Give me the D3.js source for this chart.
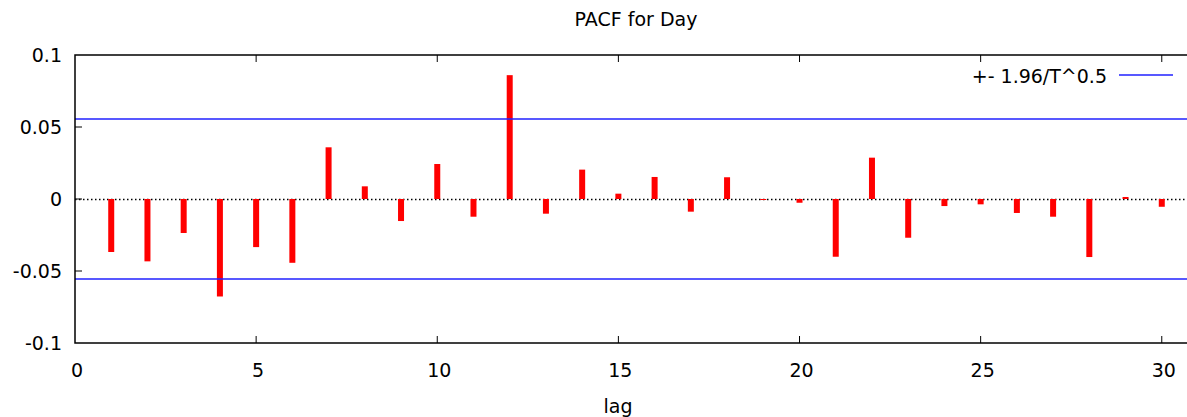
<!DOCTYPE html>
<html>
<head>
<meta charset="utf-8">
<script src="https://cdn.jsdelivr.net/npm/d3@7/dist/d3.min.js"></script>
<style>
  body { margin: 0; background: #fff; }
  svg text { font-family: "DejaVu Sans", Verdana, sans-serif; font-size: 19px; fill: #000; }
</style>
</head>
<body>
<svg width="1187" height="417"></svg>
<script>
var lags = d3.range(1, 31);
var pacf = [-0.0368, -0.0433, -0.0236, -0.0677, -0.0334, -0.0443, 0.0359, 0.0088, -0.0153, 0.0243,
  -0.0123, 0.0860, -0.0102, 0.0204, 0.0037, 0.0153, -0.0088, 0.0151, -0.0007, -0.0026,
  -0.0401, 0.0287, -0.0269, -0.0049, -0.0037, -0.0097, -0.0123, -0.0403, 0.0014, -0.0054];
var band = 0.0558;
var xTicks = [0, 5, 10, 15, 20, 25, 30];
var yTicks = [-0.1, -0.05, 0, 0.05, 0.1];

var svg = d3.select("svg"),
  plotL = 75, plotR = 1198, plotT = 55, plotB = 343;

var x = d3.scaleLinear().domain([0, 31]).range([plotL, plotR]);
var y = d3.scaleLinear().domain([-0.1, 0.1]).range([plotB, plotT]);

// title and axis label
svg.append("text").attr("x", 636).attr("y", 26).attr("text-anchor", "middle").text("PACF for Day");
svg.append("text").attr("x", 618).attr("y", 413).attr("text-anchor", "middle").text("lag");

// zero line, dotted
svg.append("line")
  .attr("x1", plotL).attr("x2", plotR)
  .attr("y1", y(0) + 0.5).attr("y2", y(0) + 0.5)
  .attr("stroke", "#000").attr("stroke-width", 1.5)
  .attr("stroke-dasharray", "1.5,2.5");

// bars
svg.append("g")
  .selectAll("rect")
  .data(lags)
  .enter().append("rect")
  .attr("x", function(d) { return x(d) - 3; })
  .attr("width", 6)
  .attr("y", function(d, i) { return Math.min(y(pacf[i]), y(0)); })
  .attr("height", function(d, i) { return Math.abs(y(pacf[i]) - y(0)); })
  .attr("fill", "#ff0000");

// confidence band
svg.append("g")
  .selectAll("line")
  .data([band, -band])
  .enter().append("line")
  .attr("x1", plotL).attr("x2", plotR)
  .attr("y1", function(d) { return Math.round(y(d)); })
  .attr("y2", function(d) { return Math.round(y(d)); })
  .attr("stroke", "#2020ff").attr("stroke-width", 1.3);

// border
svg.append("rect")
  .attr("x", plotL).attr("y", plotT)
  .attr("width", plotR - plotL).attr("height", plotB - plotT)
  .attr("fill", "none").attr("stroke", "#000").attr("stroke-width", 1.5);

// x ticks, inward on bottom and top
var xt = svg.append("g");
xTicks.forEach(function(t) {
  if (t > 0) {
    xt.append("line").attr("x1", x(t)).attr("x2", x(t)).attr("y1", plotB).attr("y2", plotB - 7)
      .attr("stroke", "#000").attr("stroke-width", 1);
    xt.append("line").attr("x1", x(t)).attr("x2", x(t)).attr("y1", plotT).attr("y2", plotT + 7)
      .attr("stroke", "#000").attr("stroke-width", 1);
  }
  xt.append("text").attr("x", x(t) + 2).attr("y", 377).attr("text-anchor", "middle").text(t);
});

// y ticks, inward on left
var yt = svg.append("g");
var fmt = function(v) { return v === 0 ? "0" : String(+v.toFixed(2)); };
yTicks.forEach(function(t) {
  if (t > -0.1 && t < 0.1) {
    yt.append("line").attr("x1", plotL).attr("x2", plotL + 7).attr("y1", y(t)).attr("y2", y(t))
      .attr("stroke", "#000").attr("stroke-width", 1);
  }
  yt.append("text").attr("x", 62).attr("y", y(t) + 7).attr("text-anchor", "end").text(fmt(t));
});

// legend
svg.append("text").attr("x", 1107).attr("y", 83).attr("text-anchor", "end").text("+- 1.96/T^0.5");
svg.append("line").attr("x1", 1119).attr("x2", 1173).attr("y1", 75).attr("y2", 75)
  .attr("stroke", "#2020ff").attr("stroke-width", 1.3);
</script>
</body>
</html>
